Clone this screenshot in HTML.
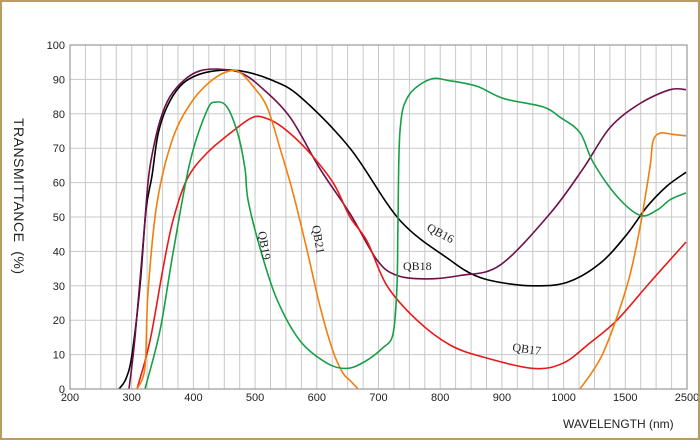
<!DOCTYPE html>
<html><head><meta charset="utf-8"><style>
html,body{margin:0;padding:0;background:#fff}
#w{position:relative;width:696px;height:436px;border:2px solid #b89c62;background:#fff;overflow:hidden}
svg{position:absolute;left:-2px;top:-2px}
.t{font-family:"Liberation Sans",sans-serif;font-size:11px;fill:#222}
.q{font-family:"Liberation Serif",serif;font-size:12px;fill:#222}
</style></head><body><div id="w">
<svg id="s" width="700" height="440" xmlns="http://www.w3.org/2000/svg">
<g id="grid" stroke="#c8c8c8" stroke-width="1"></g>
<g id="curves" fill="none" stroke-width="1.6"></g>
<text class="t" x="563" y="428" style="font-size:12px">WAVELENGTH (nm)</text>
<text class="t" transform="translate(14,118) rotate(90)" style="font-size:14px;letter-spacing:0.5px">TRANSMITTANCE&#160;&#160;(%)</text>
<text class="q" transform="translate(258,232) rotate(80)">QB19</text>
<text class="q" transform="translate(312,226) rotate(80)">QB21</text>
<text class="q" transform="translate(426,230) rotate(28)">QB16</text>
<text class="q" x="403" y="270">QB18</text>
<text class="q" transform="translate(512,351) rotate(8)">QB17</text>
</svg></div>
<script>
var NS="http://www.w3.org/2000/svg",L=70,R=687,T=45,B=389;
function el(p,n,a,txt){var e=document.createElementNS(NS,n);for(var k in a)e.setAttribute(k,a[k]);if(txt!=null)e.textContent=txt;p.appendChild(e);return e;}
var g=document.getElementById('grid'),s=document.getElementById('s');
for(var i=0;i<=40;i++){var x=L+(R-L)*i/40;el(g,'line',{x1:x.toFixed(1),x2:x.toFixed(1),y1:T,y2:B});}
for(var v=0;v<=100;v+=10){var y=B-v*3.44;el(g,'line',{x1:L,x2:R,y1:y.toFixed(1),y2:y.toFixed(1)});
 el(s,'text',{class:'t',x:L-5,y:(y+4).toFixed(1),'text-anchor':'end'},String(v));}
el(s,'rect',{x:L,y:T,width:R-L,height:B-T,fill:'none',stroke:'#999','stroke-width':1.2});
var lab=['200','300','400','500','600','700','800','900','1000','1500','2500'];
for(var i=0;i<lab.length;i++){el(s,'text',{class:'t',x:(L+(R-L)*i/10).toFixed(1),y:401,'text-anchor':'middle'},lab[i]);}
function path(pts){var P=pts.map(function(p){return[p[0],B-p[1]*3.44]});var d='M'+P[0][0]+','+P[0][1].toFixed(1);
for(var i=0;i<P.length-1;i++){var p0=P[i-1]||P[i],p1=P[i],p2=P[i+1],p3=P[i+2]||p2;
d+=' C'+(p1[0]+(p2[0]-p0[0])/6).toFixed(1)+','+(p1[1]+(p2[1]-p0[1])/6).toFixed(1)+' '+(p2[0]-(p3[0]-p1[0])/6).toFixed(1)+','+(p2[1]-(p3[1]-p1[1])/6).toFixed(1)+' '+p2[0]+','+p2[1].toFixed(1);}return d;}
var C=document.getElementById('curves');
var data={
'#000':[[119,0],[126,3],[132,10],[140,30],[146,52],[152,62],[158,74],[167,82],[180,88],[195,91],[215,92.5],[240,92.5],[270,90],[300,85],[350,70],[400,49],[450,37.5],[475,33],[500,31],[533,30],[567,31],[600,36.5],[627,45],[647,53],[667,59],[686,63]],
'#6e0f4a':[[129,0],[135,15],[143,42],[148,60],[152,68],[160,78],[170,85],[185,90],[200,92.5],[218,93],[240,92],[260,88],[290,79],[320,64],[350,51],[377,37.5],[397,33],[427,32],[460,33],[500,36],[550,51],[583,64],[610,76],[640,83],[670,87],[686,87]],
'#e81818':[[137,0],[150,14],[163,35],[173,49],[187,61],[207,68.6],[233,75],[253,79],[267,78.6],[283,76],[307,69.5],[333,60],[350,50],[367,43],[387,30],[417,20],[450,12.8],[483,9.3],[533,6],[563,7.5],[590,13.4],[617,20],[650,31],[686,42.7]],
'#f07f0c':[[137,0],[145,6.4],[148,28],[157,54],[173,73],[193,84],[213,90],[230,92.5],[240,92],[253,88],[267,82],[280,70],[293,57],[307,40.4],[320,24],[333,11],[343,4.6],[350,2.5],[358,0]],
'#f07f0c ':[[580,0],[603,10.4],[627,30],[640,47],[650,64.6],[653,72],[660,74.4],[673,74],[686,73.6]],
'#16a045':[[145,0],[160,17],[173,39.5],[190,66],[207,81],[216,83.4],[227,82],[238,74],[245,64],[248,55],[260,41],[277,26],[300,14],[327,7.5],[347,6],[365,8],[383,12],[393,16],[397,30],[398,49],[400,75],[408,85],[430,90],[450,89.6],[477,88],[503,84.5],[543,82],[560,79],[580,74.5],[593,66],[617,56],[640,50.5],[657,52],[670,55],[686,57]]
};
for(var k in data){el(C,'path',{d:path(data[k]),stroke:k.trim()});}
</script></body></html>
